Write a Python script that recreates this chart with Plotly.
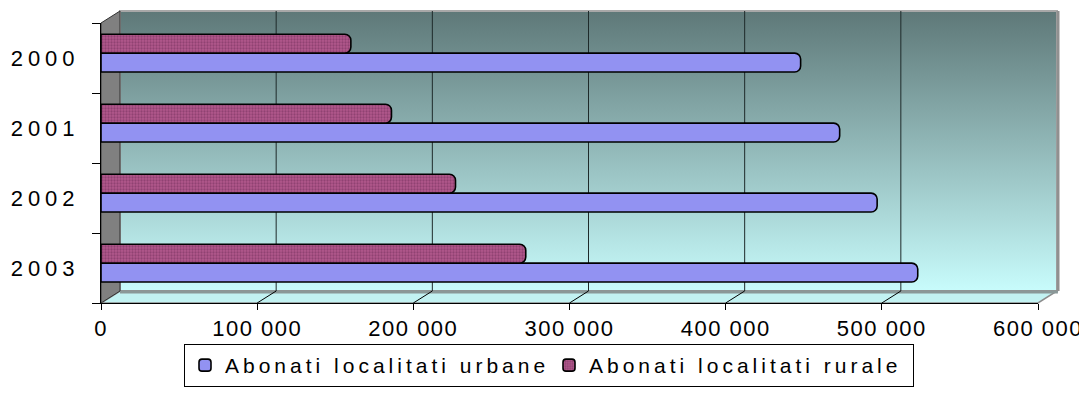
import base64
import plotly.graph_objects as go

# ---------------- data ----------------
years = ["2000", "2001", "2002", "2003"]
urban = [448000, 473000, 497000, 523000]
rural = [160000, 186000, 227000, 272000]
x_tickvals = [0, 100000, 200000, 300000, 400000, 500000, 600000]
x_ticktext = ["0", "100 000", "200 000", "300 000", "400 000", "500 000", "600 000"]
series_names = ["Abonati localitati urbane", "Abonati localitati rurale"]

# ---------------- geometry helpers (layout decoration) ----------------
W, H = 1087, 409
L, R, T, B = 93, 1030, 15, 295          # plot area in pixels
PW, PH = R - L, B - T
DX, DY = 19, 12                           # 3-D depth offset of back wall


def px(x):
    return (x - L) / PW


def py(y):
    return (B - y) / PH


FONT = "Arial, 'Liberation Sans', sans-serif"

fig = go.Figure()

fig.add_trace(go.Bar(
    name=series_names[0], y=years, x=urban, orientation="h",
    width=0.27, offset=-0.2,
    marker=dict(color="#9292f2", line=dict(color="#000000", width=1.6), cornerradius=6),
    hoverinfo="skip",
))
fig.add_trace(go.Bar(
    name=series_names[1], y=years, x=rural, orientation="h",
    width=0.27, offset=0.07,
    marker=dict(color="#a04a7c", line=dict(color="#000000", width=1.6), cornerradius=6,
                pattern=dict(shape=".", fgcolor="#6e2c58", bgcolor="#b2588c", size=3, solidity=0.45)),
    hoverinfo="skip",
))

# back wall gradient image
svg = ("<svg xmlns='http://www.w3.org/2000/svg' width='100' height='100' viewBox='0 0 100 100' "
       "preserveAspectRatio='none'><defs><linearGradient id='g' x1='0' y1='0' x2='0' y2='1'>"
       "<stop offset='0' stop-color='#5e7878'/><stop offset='1' stop-color='#c8fcfc'/>"
       "</linearGradient></defs><rect width='100' height='100' fill='url(#g)'/></svg>")
src = "data:image/svg+xml;base64," + base64.b64encode(svg.encode()).decode()
bx0, bx1, by0, by1 = L + DX, R + DX, T - DY, B - DY
fig.add_layout_image(dict(source=src, xref="paper", yref="paper",
                          x=px(bx0), y=py(by0), sizex=px(bx1) - px(bx0), sizey=py(by0) - py(by1),
                          xanchor="left", yanchor="top", sizing="stretch", layer="below"))

shapes = []
# back wall frame
shapes.append(dict(type="rect", xref="paper", yref="paper", x0=px(bx0), x1=px(bx1), y0=py(by1), y1=py(by0),
                   line=dict(color="#a8a8a8", width=2), layer="below"))
# floor
shapes.append(dict(type="path", xref="paper", yref="paper",
                   path=f"M{px(L)},{py(B)} L{px(bx0)},{py(by1)} L{px(bx1)},{py(by1)} L{px(R)},{py(B)} Z",
                   fillcolor="#c2f2f2", line=dict(color="#8c8c8c", width=1.5), layer="below"))
shapes.append(dict(type="line", xref="paper", yref="paper", x0=px(bx0), x1=px(bx1) + 0.001,
                   y0=py(by1 + 1), y1=py(by1 + 1), line=dict(color="#8a9898", width=3), layer="below"))
# right edge of back wall
shapes.append(dict(type="line", xref="paper", yref="paper", x0=px(bx1 + 1), x1=px(bx1 + 1),
                   y0=py(by1), y1=py(by0), line=dict(color="#909090", width=3), layer="below"))
# left side wall
shapes.append(dict(type="path", xref="paper", yref="paper",
                   path=f"M{px(L)},{py(T)} L{px(bx0)},{py(by0)} L{px(bx0)},{py(by1)} L{px(L)},{py(B)} Z",
                   fillcolor="#808080", line=dict(color="#333333", width=1), layer="below"))

# grid lines on back wall + diagonal floor lines, anchored to tick values
for v in x_tickvals[1:-1]:
    shapes.append(dict(type="line", xref="x", yref="paper", xsizemode="pixel", xanchor=v,
                       x0=DX, x1=DX, y0=py(by1), y1=py(by0),
                       line=dict(color="#1e2a2a", width=1), layer="below"))
    shapes.append(dict(type="line", xref="x", yref="paper", xsizemode="pixel", xanchor=v,
                       x0=0, x1=DX, y0=0, y1=py(by1),
                       line=dict(color="#000000", width=1), layer="below"))

fig.update_layout(
    width=W, height=H,
    margin=dict(l=L, r=W - R, t=T, b=H - B, autoexpand=False),
    paper_bgcolor="#ffffff", plot_bgcolor="rgba(0,0,0,0)",
    barmode="overlay",
    shapes=shapes,
    font=dict(family=FONT, size=23, color="#000000"),
    xaxis=dict(range=[0, 600000], tickvals=x_tickvals, ticktext=x_ticktext,
               showgrid=False, zeroline=False, showline=True, linecolor="#000000", linewidth=1,
               ticks="outside", ticklen=6, tickcolor="#000000",
               tickfont=dict(family=FONT, size=22, color="#000000")),
    yaxis=dict(type="category", categoryorder="array", categoryarray=years[::-1],
               range=[-0.5, 3.5], showgrid=False, zeroline=False,
               showline=True, linecolor="#000000", linewidth=1,
               ticks="outside", ticklen=8, tickcolor="#000000", tickson="boundaries",
               ticklabelstandoff=16,
               tickfont=dict(family=FONT, size=22, color="#000000")),
    legend=dict(orientation="h", x=px(176), xanchor="left", y=py(336), yanchor="top",
                bgcolor="#ffffff", bordercolor="#000000", borderwidth=1,
                font=dict(family=FONT, size=21, color="#000000"),
                entrywidth=319, entrywidthmode="pixels", traceorder="normal"),
    showlegend=True,
)

post = ("var s=document.createElement('style');"
        "s.textContent='.xtick text{letter-spacing:1.5px !important}"
        ".ytick text{letter-spacing:5px !important}"
        ".legendtext{letter-spacing:4px !important}';"
        "document.head.appendChild(s);")

fig.write_html("out.html", config={"displayModeBar": False}, post_script=post)
